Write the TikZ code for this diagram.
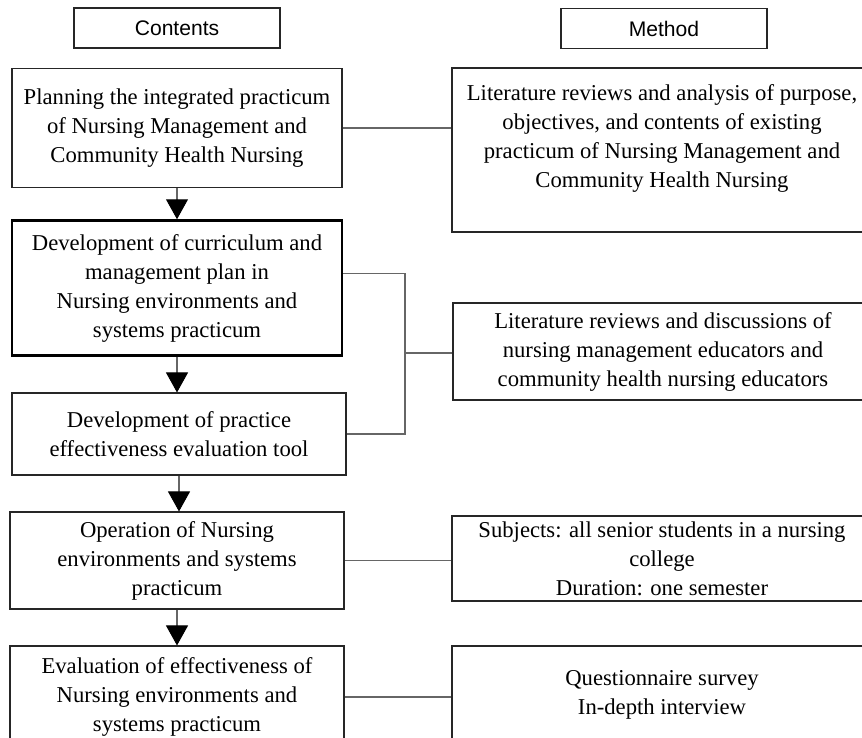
\documentclass[tikz,border=0pt]{standalone}
\usepackage{fontspec}
\setmainfont{Liberation Serif}
\newfontfamily\headfont{Liberation Sans}
\usetikzlibrary{arrows.meta}

\begin{document}
\begin{tikzpicture}[
  head/.style={draw=black!85,line width=0.6pt,minimum width=4.12cm,minimum height=0.8cm,
    font=\headfont\fontsize{12}{14}\selectfont},
  cbox/.style={draw=black!85,line width=0.6pt,align=center,minimum width=6.6cm,inner sep=2pt,
    font=\fontsize{12.9}{16.5}\selectfont},
  mbox/.style={cbox,minimum width=8.4cm},
  conn/.style={draw=black!60,line width=0.6pt},
  arr/.style={conn,-{Triangle[width=0.44cm,length=0.4cm,color=black]}}
]
\useasboundingbox (0,0) rectangle (17.24,14.76);
\clip (0,0) rectangle (17.24,14.76);

% Headers
\node[head] (hc) at (3.54,14.2) {Contents};
\node[head] (hm) at (13.28,14.19) {Method};

% Contents
\node[cbox,minimum height=2.38cm] (b1) at (3.54,12.2)
  {Planning the integrated practicum\\of Nursing Management and\\Community Health Nursing};
\node[cbox,minimum height=2.7cm,line width=1.4pt,draw=black] (b2) at (3.54,9.0)
  {Development of curriculum and\\management plan in\\Nursing environments and\\systems practicum};
\node[cbox,minimum width=6.68cm,minimum height=1.64cm] (b3) at (3.58,6.08)
  {Development of practice\\effectiveness evaluation tool};
\node[cbox,minimum width=6.68cm,minimum height=1.94cm] (b4) at (3.54,3.55)
  {Operation of Nursing\\environments and systems\\practicum};
\node[cbox,minimum width=6.68cm,minimum height=2.04cm] (b5) at (3.54,0.82)
  {Evaluation of effectiveness of\\Nursing environments and\\systems practicum};

% Method
\node[mbox,minimum height=3.28cm,text depth=0.55cm] (m1) at (13.24,11.76)
  {Literature reviews and analysis of purpose,\\objectives, and contents of existing\\practicum of Nursing Management and\\Community Health Nursing};
\node[mbox,minimum height=1.94cm] (m2) at (13.26,7.73)
  {Literature reviews and discussions of\\nursing management educators and\\community health nursing educators};
\node[mbox,minimum height=1.7cm] (m3) at (13.24,3.59)
  {Subjects: all senior students in a nursing\\college\\Duration: one semester};
\node[mbox,minimum height=1.96cm] (m4) at (13.24,0.86)
  {Questionnaire survey\\In-depth interview};

% Arrows
\draw[arr] (b1.south) -- (b1.south |- b2.north);
\draw[arr] (b2.south) -- (b2.south |- b3.north);
\draw[arr] (b3.south) -- (b3.south |- b4.north);
\draw[arr] (b4.south) -- (b4.south |- b5.north);

% Links
\coordinate (brk) at (8.1,7.7);
\draw[conn] (b1.east) -- (b1.east -| m1.west);
\draw[conn] ([yshift=0.29cm]b2.east) -| (brk) |- (b3.east);
\draw[conn] (brk) -- (brk -| m2.west);
\draw[conn] (b4.east) -- (b4.east -| m3.west);
\draw[conn] (b5.east) -- (b5.east -| m4.west);
\end{tikzpicture}
\end{document}
